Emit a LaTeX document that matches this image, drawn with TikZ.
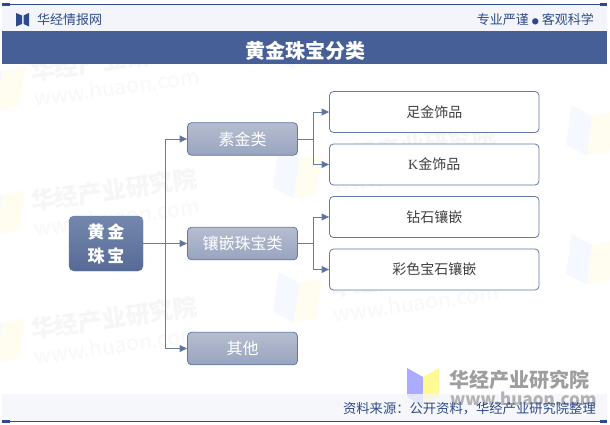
\documentclass[tikz,border=0pt]{standalone}
\usepackage{fontspec}
\usepackage{xcolor}
\usetikzlibrary{arrows.meta}
\setmainfont{Noto Sans CJK SC}
\newfontfamily\kfont{Liberation Serif}
\definecolor{bandblue}{HTML}{465F96}
\definecolor{palebar}{HTML}{F3F5FA}
\definecolor{edgeblue}{HTML}{6379A3}
\definecolor{linkblue}{HTML}{667BA5}
\definecolor{tipblue}{HTML}{5A70A0}
\definecolor{inkblue}{HTML}{2F4A8A}
\definecolor{lightbox}{HTML}{B6BDCF}
\definecolor{darkbox}{HTML}{98A4BF}
\definecolor{roottop}{HTML}{7488AE}
\definecolor{rootbottom}{HTML}{566A96}
\definecolor{markgrey}{HTML}{F6F6F7}
\definecolor{webgrey}{HTML}{F8F8F9}
\definecolor{markblue}{HTML}{F5F8FE}
\definecolor{markyellow}{HTML}{FFFCF0}
\tikzset{
  rootbox/.style={draw=edgeblue,rounded corners=5pt,top color=roottop,bottom color=rootbottom,
    minimum width=74pt,minimum height=55pt,inner sep=0pt,align=center,text=white,font=\fontsize{17}{24}\selectfont\bfseries},
  midbox/.style={draw=edgeblue,line width=0.8pt,rounded corners=4pt,top color=lightbox,bottom color=darkbox,
    minimum width=110pt,minimum height=32.5pt,inner sep=0pt,text=white,font=\fontsize{16}{18}\selectfont},
  leafbox/.style={draw=edgeblue,line width=0.8pt,rounded corners=4pt,fill=white,
    minimum width=209.5pt,minimum height=41pt,inner sep=0pt,text=black!75,font=\fontsize{14}{16}\selectfont},
  link/.style={draw=linkblue,line width=0.9pt},
  arrowlink/.style={link,-{Triangle[length=7.5pt,width=7pt,fill=tipblue]}},
  markname/.style={text=markgrey,font=\fontsize{24}{26}\selectfont\bfseries,rotate=8,inner sep=0pt},
  markweb/.style={text=webgrey,font=\fontsize{21}{23}\selectfont,rotate=8,inner sep=0pt},
  headtext/.style={text=inkblue,inner sep=0pt,font=\fontsize{13}{15}\selectfont}
}
\begin{document}
\begin{tikzpicture}[x=1pt,y=-1pt]
  \useasboundingbox (0,0) rectangle (610,425);
  \fill[white] (0,0) rectangle (610,425);

  % faint marks behind the chart
  \foreach \mx/\my in {0/87,0/211,0/339,297/45,297/175,297/299,590/132,590/261}{
    \begin{scope}[shift={(\mx,\my)},rotate=-8]
      \fill[markblue] (-22,-24) -- (0,-16) -- (0,24) -- (-22,16) -- cycle;
      \fill[markyellow] (0,-16) -- (22,-24) -- (22,16) -- (0,24) -- cycle;
    \end{scope}
  }
  \foreach \mx/\my in {114/60,114/190,114/318,413/146,413/276}{
    \node[markname] (wmname) at (\mx,\my) {华经产业研究院};
    \node[markweb] (wmweb) at (\mx+3,\my+27) {www.huaon.com};
  }

  % logo that the footer bar runs over
  \fill[blue!33] (407,368) -- (423,377) -- (423,406) -- (407,397) -- cycle;
  \fill[yellow!42] (423,377) -- (439,368) -- (439,397) -- (423,406) -- cycle;
  \node[anchor=west,inner sep=0pt,text=black!38,font=\fontsize{20}{22}\selectfont\bfseries] (logoname) at (449,380) {华经产业研究院};

  % header
  \fill[palebar] (2,5) rectangle (606.5,31);
  \fill[bandblue] (2,31) rectangle (606.5,64);
  \draw[inkblue,line width=0.8pt] (2,4.5) -- (607,4.5);
  \fill[inkblue] (2,3) rectangle (10,6);
  \fill[inkblue] (600,3) rectangle (607,6);
  \fill[inkblue] (16,13) -- (22,15.5) -- (22,24) -- (16,26.5) -- cycle;
  \fill[inkblue] (29,13) -- (23.5,15.5) -- (23.5,24) -- (29,26.5) -- cycle;
  \node[headtext,anchor=west] (brand) at (37,20) {华经情报网};
  \node[headtext,anchor=east] (motto) at (594,19.5) {专业严谨 {\fontsize{7}{7}\selectfont●} 客观科学};
  \node[text=white,inner sep=0pt,font=\fontsize{20}{22}\selectfont\bfseries] (title) at (305,51) {黄金珠宝分类};

  % chart
  \node[rootbox] (root) at (106,243.5) {黄\hspace{3pt}金\\珠\hspace{3pt}宝};
  \node[midbox] (plain) at (242.5,139) {素金类};
  \node[midbox] (inlay) at (242.5,243.5) {镶嵌珠宝类};
  \node[midbox] (other) at (242.5,348.5) {其他};
  \node[leafbox] (foot) at (434.25,112) {足金饰品};
  \node[leafbox] (kgold) at (434.25,164.5) {{\kfont K}金饰品};
  \node[leafbox] (diamond) at (434.25,217) {钻石镶嵌};
  \node[leafbox] (color) at (434.25,269.5) {彩色宝石镶嵌};

  \coordinate (trunk) at (165,243.5);
  \coordinate (forka) at (313,139);
  \coordinate (forkb) at (313,243.5);
  \draw[arrowlink] (root) -- (inlay);
  \draw[arrowlink] (trunk) |- (plain);
  \draw[arrowlink] (trunk) |- (other);
  \draw[link] (plain) -- (forka);
  \draw[link] (inlay) -- (forkb);
  \draw[arrowlink] (forka) |- (foot);
  \draw[arrowlink] (forka) |- (kgold);
  \draw[arrowlink] (forkb) |- (diamond);
  \draw[arrowlink] (forkb) |- (color);

  % footer
  \fill[palebar,opacity=.8] (2,394) rectangle (606.5,421);
  \node[anchor=west,inner sep=0pt,text=black!30,font=\fontsize{17}{19}\selectfont\bfseries] (logoweb) at (450,399) {www.huaon.com};
  \node[headtext,anchor=east,font=\fontsize{13.3}{15}\selectfont] (source) at (596,408.5) {资料来源：公开资料，华经产业研究院整理};
  \draw[inkblue,line width=0.8pt] (2,421) -- (607,421);
  \fill[inkblue] (2,419.5) rectangle (10,422.5);
  \fill[inkblue] (600,419.5) rectangle (607,422.5);
\end{tikzpicture}
\end{document}
